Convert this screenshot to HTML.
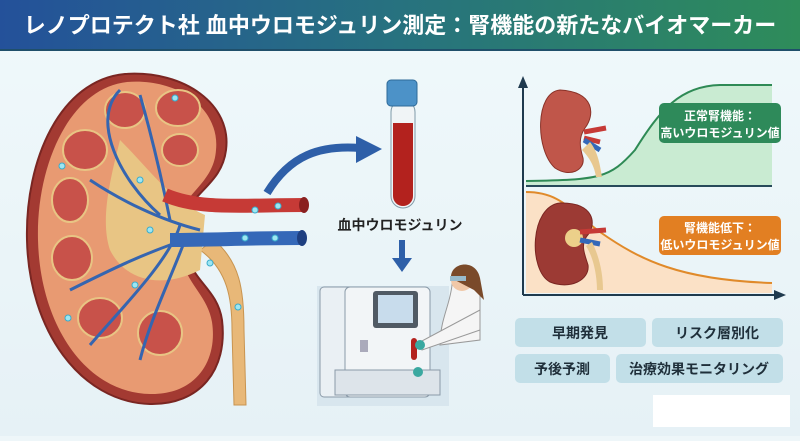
<!DOCTYPE html>
<html><head><meta charset="utf-8"><style>
body{margin:0;width:800px;height:436px;overflow:hidden;background:#eef6f9;font-family:"Liberation Sans","Noto Sans CJK JP",sans-serif}
</style></head><body>
<svg width="800" height="436" viewBox="0 0 800 436" xmlns="http://www.w3.org/2000/svg" font-family="Liberation Sans, Noto Sans CJK JP, sans-serif">
<defs>
<linearGradient id="hd" x1="0" x2="1"><stop offset="0" stop-color="#24519a"/><stop offset="0.5" stop-color="#27727f"/><stop offset="1" stop-color="#2e8c5a"/></linearGradient>
<linearGradient id="bg" x1="0" y1="0" x2="0" y2="1"><stop offset="0" stop-color="#f0f9fb"/><stop offset="1" stop-color="#e6f1f6"/></linearGradient>
</defs>
<rect width="800" height="436" fill="url(#bg)"/>
<rect width="800" height="49" fill="url(#hd)"/>
<rect y="49" width="800" height="2" fill="#1f4f6a"/>
<text x="400" y="33" text-anchor="middle" fill="#fff" font-size="22" font-weight="bold">レノプロテクト社 血中ウロモジュリン測定：腎機能の新たなバイオマーカー</text>

<!-- Ureter -->
<path d="M200 250 C228 270 232 300 232 330 L234 405 L246 405 L244 330 C244 290 240 262 214 240 Z" fill="#e8b878" stroke="#c89450"/>
<!-- Kidney -->
<path d="M125 74 C60 80 25 160 27 240 C29 330 80 402 150 404 C200 405 228 370 222 320 C218 292 196 282 190 262 L185 215 C196 190 222 182 226 150 C232 105 185 70 125 74 Z" fill="#a33a32" stroke="#7a2622" stroke-width="2"/>
<path d="M127 82 C70 88 36 165 38 240 C40 325 86 393 150 394 C195 395 218 362 212 322 C208 298 190 286 182 262 L178 215 C190 190 214 180 216 150 C220 110 180 78 127 82 Z" fill="#e89a72"/>
<path d="M120 140 C110 180 100 220 110 250 C125 280 160 290 200 270 L205 215 C170 200 150 170 120 140 Z" fill="#e8c584"/>
<g fill="#c8524a" stroke="#e8c584" stroke-width="2">
<ellipse cx="125" cy="110" rx="20" ry="18"/><ellipse cx="178" cy="108" rx="22" ry="18"/>
<ellipse cx="85" cy="150" rx="22" ry="20"/><ellipse cx="70" cy="200" rx="18" ry="22"/>
<ellipse cx="72" cy="258" rx="20" ry="22"/><ellipse cx="100" cy="318" rx="22" ry="20"/>
<ellipse cx="160" cy="333" rx="22" ry="22"/><ellipse cx="180" cy="150" rx="18" ry="16"/>
</g>
<g stroke="#3565b0" stroke-width="3" fill="none">
<path d="M200 230 C160 220 120 200 90 180"/><path d="M200 235 C150 250 110 270 70 290"/>
<path d="M170 220 C160 170 150 130 140 95"/><path d="M185 240 C170 280 150 320 140 360"/>
<path d="M180 225 C170 260 120 310 90 345"/><path d="M160 215 C120 180 90 120 120 90"/>
</g>
<!-- Vessels -->
<path d="M165 195 C200 210 240 205 305 205" stroke="#c63a36" stroke-width="14" fill="none"/>
<ellipse cx="304" cy="205" rx="5" ry="8" fill="#8a2020"/>
<path d="M170 240 C210 240 250 238 302 238" stroke="#3568b8" stroke-width="14" fill="none"/>
<ellipse cx="302" cy="238" rx="5" ry="8" fill="#1e3f80"/>
<g fill="#9ee6f2" stroke="#3aaccc"><circle cx="175" cy="98" r="3"/><circle cx="62" cy="166" r="3"/><circle cx="140" cy="180" r="3"/><circle cx="150" cy="230" r="3"/><circle cx="255" cy="210" r="3"/><circle cx="278" cy="206" r="3"/><circle cx="245" cy="238" r="3"/><circle cx="275" cy="238" r="3"/><circle cx="210" cy="263" r="3"/><circle cx="238" cy="307" r="3"/><circle cx="68" cy="318" r="3"/><circle cx="135" cy="285" r="3"/></g>

<!-- curved arrow -->
<path d="M267 193 C290 155 320 145 360 148" stroke="#2e5fa8" stroke-width="8" fill="none"/>
<path d="M356 136 L382 149 L356 163 Z" fill="#2e5fa8"/>
<!-- tube -->
<rect x="391" y="100" width="24" height="108" rx="12" fill="#f0f4f6" stroke="#7f9aa8"/>
<path d="M393 123 L413 123 L413 196 A10 10 0 0 1 393 196 Z" fill="#b3221e"/>
<rect x="387" y="80" width="30" height="26" rx="4" fill="#4c92c8" stroke="#2e6a98"/>
<text x="400" y="230" text-anchor="middle" font-size="14" font-weight="bold" fill="#222">血中ウロモジュリン</text>
<rect x="399" y="240" width="6" height="20" fill="#2e5fa8"/><path d="M392 258 L412 258 L402 272 Z" fill="#2e5fa8"/>
<!-- machine -->
<rect x="317" y="286" width="132" height="120" fill="#d8e6ee"/>
<rect x="320" y="287" width="35" height="110" rx="4" fill="#eaf0f4" stroke="#8a9aa8"/>
<rect x="345" y="287" width="85" height="110" rx="5" fill="#f2f5f7" stroke="#8a9aa8"/>
<rect x="373" y="291" width="45" height="37" rx="3" fill="#505a64"/><rect x="378" y="295" width="35" height="28" fill="#c8dcec"/>
<rect x="360" y="340" width="8" height="12" fill="#aab"/>
<rect x="335" y="370" width="105" height="25" fill="#dde4ea" stroke="#8a9aa8"/>
<rect x="411" y="338" width="6" height="22" rx="3" fill="#b3221e"/>
<!-- scientist -->
<path d="M452 285 C452 270 475 265 480 282 L480 340 L440 345 C440 320 450 305 452 285 Z" fill="#f5f5f5" stroke="#999"/>
<circle cx="462" cy="280" r="11" fill="#f0c8a8"/><path d="M451 278 C450 262 476 258 480 278 L484 300 L474 290 Z" fill="#7a4a2a"/>
<rect x="450" y="276" width="16" height="5" fill="#99bbcc"/>
<path d="M480 310 L420 342 L422 350 L480 330 Z" fill="#f5f5f5" stroke="#999"/>
<circle cx="420" cy="345" r="5" fill="#3aa8a0"/><circle cx="418" cy="372" r="5" fill="#3aa8a0"/>

<!-- chart -->
<path d="M526 85 L526 186 L775 186 L775 85 L680 85 C630 85 630 178 540 180 L526 181 Z" fill="none"/>
<path d="M526 181 C600 180 610 178 635 150 C660 110 680 86 720 85 L772 85 L772 186 L526 186 Z" fill="#c9ebd2"/>
<path d="M526 181 C600 180 610 178 635 150 C660 110 680 86 720 85 L772 85" stroke="#2e8a55" stroke-width="2" fill="none"/>
<path d="M526 192 C560 192 570 210 600 232 C640 260 680 280 772 283 L772 293 L526 293 Z" fill="#fbe1c6"/>
<path d="M526 192 C560 192 570 210 600 232 C640 260 680 280 772 283" stroke="#e08a2a" stroke-width="2" fill="none"/>
<line x1="526" y1="186" x2="772" y2="186" stroke="#274a5a" stroke-width="2"/>
<line x1="523" y1="295" x2="523" y2="85" stroke="#1f3a4e" stroke-width="2"/><path d="M518 88 L523 76 L528 88 Z" fill="#1f3a4e"/>
<line x1="523" y1="295" x2="776" y2="295" stroke="#1f3a4e" stroke-width="2"/><path d="M774 290 L786 295 L774 300 Z" fill="#1f3a4e"/>
<!-- small kidneys -->
<path d="M560 90 C535 92 535 150 555 168 C570 178 585 170 583 158 C580 148 578 138 585 128 C595 115 595 92 560 90 Z" fill="#c0564a" stroke="#8a3228"/>
<path d="M584 132 L606 128 M584 138 L600 142" stroke="#c63a36" stroke-width="5"/><path d="M584 140 L600 150" stroke="#3568b8" stroke-width="5"/>
<path d="M582 150 C592 160 595 170 596 177 L602 177 C600 165 598 152 590 142 Z" fill="#e8c890"/>
<path d="M560 203 C530 206 528 270 550 282 C570 290 590 280 588 265 C585 255 580 245 587 236 C597 225 595 202 560 203 Z" fill="#9c3a34" stroke="#7a2622"/>
<circle cx="574" cy="238" r="9" fill="#ecd08a"/>
<path d="M580 232 L606 230" stroke="#c63a36" stroke-width="5"/><path d="M580 240 L600 244" stroke="#3568b8" stroke-width="5"/>
<path d="M586 246 C595 260 597 280 597 290 L603 290 C603 275 600 258 592 242 Z" fill="#e8c890"/>
<rect x="659" y="103" width="122" height="40" rx="5" fill="#2e8a5a"/>
<text x="720" y="120" text-anchor="middle" fill="#fff" font-size="12" font-weight="bold">正常腎機能：</text>
<text x="720" y="137" text-anchor="middle" fill="#fff" font-size="12" font-weight="bold">高いウロモジュリン値</text>
<rect x="659" y="216" width="122" height="39" rx="5" fill="#e27f22"/>
<text x="720" y="232" text-anchor="middle" fill="#fff" font-size="12" font-weight="bold">腎機能低下：</text>
<text x="720" y="249" text-anchor="middle" fill="#fff" font-size="12" font-weight="bold">低いウロモジュリン値</text>
<!-- buttons -->
<g fill="#c2dfe8"><rect x="515" y="318" width="131" height="29" rx="5"/><rect x="652" y="318" width="131" height="29" rx="5"/><rect x="515" y="354" width="95" height="29" rx="5"/><rect x="616" y="354" width="167" height="29" rx="5"/></g>
<g font-size="14" font-weight="bold" fill="#1f2f3a" text-anchor="middle">
<text x="580" y="338">早期発見</text><text x="717" y="338">リスク層別化</text><text x="562" y="374">予後予測</text><text x="699" y="374">治療効果モニタリング</text></g>
<rect x="653" y="395" width="137" height="32" fill="#ffffff"/>
</svg>
</body></html>
